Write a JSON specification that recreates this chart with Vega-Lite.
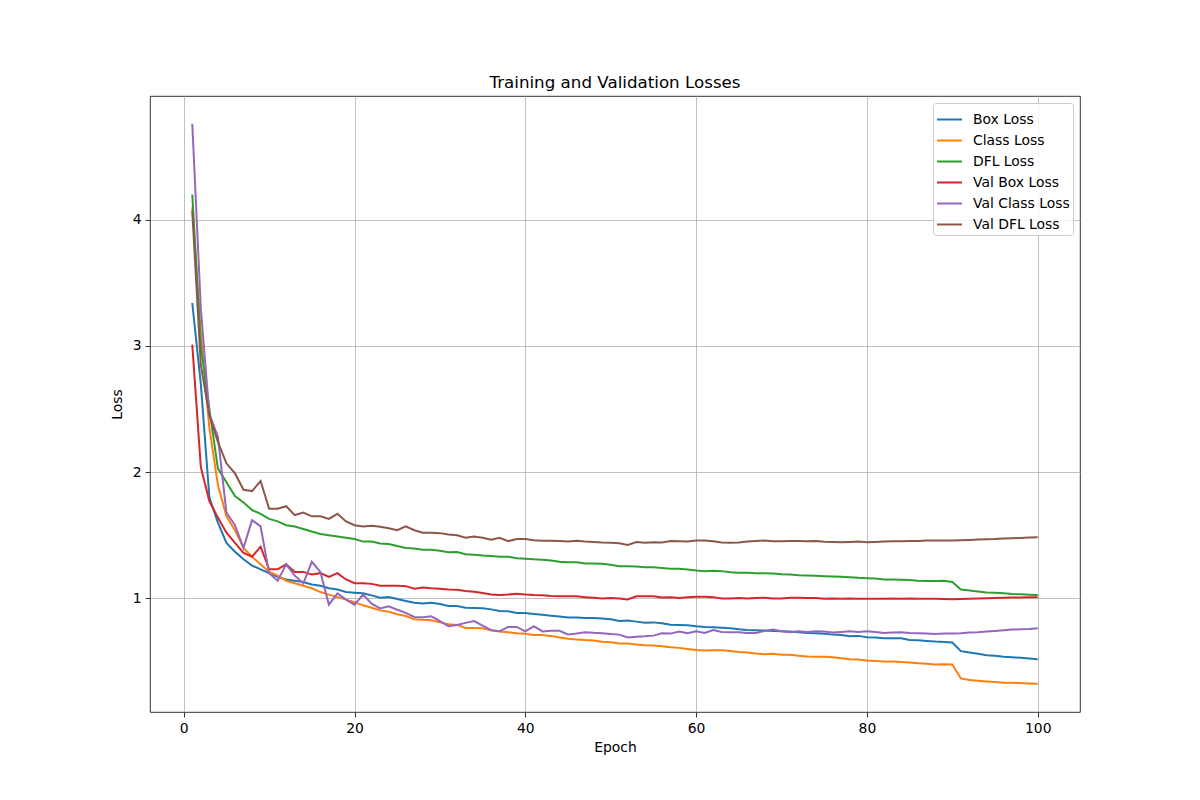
{
  "$schema": "https://vega.github.io/schema/vega-lite/v6.json",
  "width": 930,
  "height": 616,
  "autosize": {"type": "none"},
  "padding": {"left": 150, "top": 96, "right": 120, "bottom": 88},
  "config": {
    "font": "DejaVu Sans",
    "view": {"stroke": "black", "strokeWidth": 0.8},
    "axis": {
      "domain": false,
      "grid": true,
      "gridColor": "#b0b0b0",
      "gridWidth": 0.8,
      "tickColor": "black",
      "tickWidth": 0.8,
      "tickSize": 5,
      "labelColor": "black",
      "labelFontSize": 13.9,
      "labelPadding": 4,
      "titleColor": "black",
      "titleFontSize": 13.9,
      "titleFontWeight": "normal"
    }
  },
  "title": {
    "text": "Training and Validation Losses",
    "fontSize": 16.7,
    "fontWeight": "normal",
    "color": "black",
    "offset": 4
  },
  "data": {
    "values": [
      {"e": 1, "Box Loss": 3.34, "Class Loss": 4.10, "DFL Loss": 4.20, "Val Box Loss": 3.01, "Val Class Loss": 4.76, "Val DFL Loss": 4.07},
      {"e": 2, "Box Loss": 2.70, "Class Loss": 3.10, "DFL Loss": 3.00, "Val Box Loss": 2.04, "Val Class Loss": 3.30, "Val DFL Loss": 2.85},
      {"e": 3, "Box Loss": 1.80, "Class Loss": 2.35, "DFL Loss": 2.50, "Val Box Loss": 1.77, "Val Class Loss": 2.46, "Val DFL Loss": 2.45},
      {"e": 4, "Box Loss": 1.60, "Class Loss": 1.90, "DFL Loss": 2.03, "Val Box Loss": 1.64, "Val Class Loss": 2.28, "Val DFL Loss": 2.24},
      {"e": 5, "Box Loss": 1.44, "Class Loss": 1.65, "DFL Loss": 1.92, "Val Box Loss": 1.52, "Val Class Loss": 1.68, "Val DFL Loss": 2.07},
      {"e": 6, "Box Loss": 1.37, "Class Loss": 1.54, "DFL Loss": 1.81, "Val Box Loss": 1.44, "Val Class Loss": 1.58, "Val DFL Loss": 1.99},
      {"e": 7, "Box Loss": 1.31, "Class Loss": 1.40, "DFL Loss": 1.76, "Val Box Loss": 1.36, "Val Class Loss": 1.40, "Val DFL Loss": 1.86},
      {"e": 8, "Box Loss": 1.26, "Class Loss": 1.33, "DFL Loss": 1.70, "Val Box Loss": 1.33, "Val Class Loss": 1.62, "Val DFL Loss": 1.85},
      {"e": 9, "Box Loss": 1.23, "Class Loss": 1.27, "DFL Loss": 1.67, "Val Box Loss": 1.41, "Val Class Loss": 1.57, "Val DFL Loss": 1.93},
      {"e": 10, "Box Loss": 1.20, "Class Loss": 1.21, "DFL Loss": 1.63, "Val Box Loss": 1.23, "Val Class Loss": 1.20, "Val DFL Loss": 1.71},
      {"e": 11, "Box Loss": 1.17, "Class Loss": 1.18, "DFL Loss": 1.61, "Val Box Loss": 1.23, "Val Class Loss": 1.14, "Val DFL Loss": 1.71},
      {"e": 12, "Box Loss": 1.15, "Class Loss": 1.14, "DFL Loss": 1.58, "Val Box Loss": 1.27, "Val Class Loss": 1.27, "Val DFL Loss": 1.73},
      {"e": 13, "Box Loss": 1.14, "Class Loss": 1.12, "DFL Loss": 1.57, "Val Box Loss": 1.21, "Val Class Loss": 1.18, "Val DFL Loss": 1.66},
      {"e": 14, "Box Loss": 1.13, "Class Loss": 1.10, "DFL Loss": 1.55, "Val Box Loss": 1.21, "Val Class Loss": 1.12, "Val DFL Loss": 1.68},
      {"e": 15, "Box Loss": 1.11, "Class Loss": 1.08, "DFL Loss": 1.53, "Val Box Loss": 1.19, "Val Class Loss": 1.29, "Val DFL Loss": 1.65},
      {"e": 16, "Box Loss": 1.10, "Class Loss": 1.05, "DFL Loss": 1.51, "Val Box Loss": 1.20, "Val Class Loss": 1.21, "Val DFL Loss": 1.65},
      {"e": 17, "Box Loss": 1.08, "Class Loss": 1.03, "DFL Loss": 1.50, "Val Box Loss": 1.17, "Val Class Loss": 0.95, "Val DFL Loss": 1.63},
      {"e": 18, "Box Loss": 1.07, "Class Loss": 1.01, "DFL Loss": 1.49, "Val Box Loss": 1.20, "Val Class Loss": 1.04, "Val DFL Loss": 1.67},
      {"e": 19, "Box Loss": 1.05, "Class Loss": 0.99, "DFL Loss": 1.48, "Val Box Loss": 1.15, "Val Class Loss": 0.99, "Val DFL Loss": 1.61},
      {"e": 20, "Box Loss": 1.045, "Class Loss": 0.97, "DFL Loss": 1.47, "Val Box Loss": 1.12, "Val Class Loss": 0.95, "Val DFL Loss": 1.58},
      {"e": 21, "Box Loss": 1.04, "Class Loss": 0.945, "DFL Loss": 1.45, "Val Box Loss": 1.12, "Val Class Loss": 1.03, "Val DFL Loss": 1.57},
      {"e": 22, "Box Loss": 1.024, "Class Loss": 0.926, "DFL Loss": 1.45, "Val Box Loss": 1.115, "Val Class Loss": 0.958, "Val DFL Loss": 1.575},
      {"e": 23, "Box Loss": 1.005, "Class Loss": 0.905, "DFL Loss": 1.435, "Val Box Loss": 1.10, "Val Class Loss": 0.92, "Val DFL Loss": 1.567},
      {"e": 24, "Box Loss": 1.01, "Class Loss": 0.895, "DFL Loss": 1.43, "Val Box Loss": 1.10, "Val Class Loss": 0.937, "Val DFL Loss": 1.556},
      {"e": 25, "Box Loss": 0.995, "Class Loss": 0.874, "DFL Loss": 1.415, "Val Box Loss": 1.10, "Val Class Loss": 0.91, "Val DFL Loss": 1.54},
      {"e": 26, "Box Loss": 0.98, "Class Loss": 0.86, "DFL Loss": 1.40, "Val Box Loss": 1.097, "Val Class Loss": 0.885, "Val DFL Loss": 1.57},
      {"e": 27, "Box Loss": 0.966, "Class Loss": 0.835, "DFL Loss": 1.396, "Val Box Loss": 1.076, "Val Class Loss": 0.853, "Val DFL Loss": 1.54},
      {"e": 28, "Box Loss": 0.96, "Class Loss": 0.83, "DFL Loss": 1.386, "Val Box Loss": 1.087, "Val Class Loss": 0.85, "Val DFL Loss": 1.52},
      {"e": 29, "Box Loss": 0.966, "Class Loss": 0.827, "DFL Loss": 1.386, "Val Box Loss": 1.08, "Val Class Loss": 0.858, "Val DFL Loss": 1.52},
      {"e": 30, "Box Loss": 0.955, "Class Loss": 0.81, "DFL Loss": 1.378, "Val Box Loss": 1.076, "Val Class Loss": 0.82, "Val DFL Loss": 1.517},
      {"e": 31, "Box Loss": 0.94, "Class Loss": 0.795, "DFL Loss": 1.365, "Val Box Loss": 1.07, "Val Class Loss": 0.78, "Val DFL Loss": 1.507},
      {"e": 32, "Box Loss": 0.94, "Class Loss": 0.79, "DFL Loss": 1.367, "Val Box Loss": 1.068, "Val Class Loss": 0.79, "Val DFL Loss": 1.50},
      {"e": 33, "Box Loss": 0.926, "Class Loss": 0.766, "DFL Loss": 1.35, "Val Box Loss": 1.058, "Val Class Loss": 0.806, "Val DFL Loss": 1.48},
      {"e": 34, "Box Loss": 0.924, "Class Loss": 0.766, "DFL Loss": 1.346, "Val Box Loss": 1.052, "Val Class Loss": 0.82, "Val DFL Loss": 1.49},
      {"e": 35, "Box Loss": 0.921, "Class Loss": 0.764, "DFL Loss": 1.34, "Val Box Loss": 1.042, "Val Class Loss": 0.785, "Val DFL Loss": 1.48},
      {"e": 36, "Box Loss": 0.913, "Class Loss": 0.748, "DFL Loss": 1.336, "Val Box Loss": 1.03, "Val Class Loss": 0.748, "Val DFL Loss": 1.465},
      {"e": 37, "Box Loss": 0.90, "Class Loss": 0.738, "DFL Loss": 1.33, "Val Box Loss": 1.026, "Val Class Loss": 0.74, "Val DFL Loss": 1.48},
      {"e": 38, "Box Loss": 0.898, "Class Loss": 0.732, "DFL Loss": 1.33, "Val Box Loss": 1.03, "Val Class Loss": 0.774, "Val DFL Loss": 1.454},
      {"e": 39, "Box Loss": 0.885, "Class Loss": 0.724, "DFL Loss": 1.318, "Val Box Loss": 1.037, "Val Class Loss": 0.774, "Val DFL Loss": 1.47},
      {"e": 40, "Box Loss": 0.885, "Class Loss": 0.72, "DFL Loss": 1.315, "Val Box Loss": 1.03, "Val Class Loss": 0.738, "Val DFL Loss": 1.47},
      {"e": 41, "Box Loss": 0.877, "Class Loss": 0.71, "DFL Loss": 1.31, "Val Box Loss": 1.026, "Val Class Loss": 0.78, "Val DFL Loss": 1.46},
      {"e": 42, "Box Loss": 0.87, "Class Loss": 0.71, "DFL Loss": 1.307, "Val Box Loss": 1.024, "Val Class Loss": 0.738, "Val DFL Loss": 1.457},
      {"e": 43, "Box Loss": 0.863, "Class Loss": 0.703, "DFL Loss": 1.30, "Val Box Loss": 1.018, "Val Class Loss": 0.743, "Val DFL Loss": 1.457},
      {"e": 44, "Box Loss": 0.856, "Class Loss": 0.69, "DFL Loss": 1.29, "Val Box Loss": 1.016, "Val Class Loss": 0.743, "Val DFL Loss": 1.454},
      {"e": 45, "Box Loss": 0.848, "Class Loss": 0.68, "DFL Loss": 1.286, "Val Box Loss": 1.016, "Val Class Loss": 0.714, "Val DFL Loss": 1.45},
      {"e": 46, "Box Loss": 0.848, "Class Loss": 0.675, "DFL Loss": 1.286, "Val Box Loss": 1.016, "Val Class Loss": 0.722, "Val DFL Loss": 1.457},
      {"e": 47, "Box Loss": 0.845, "Class Loss": 0.67, "DFL Loss": 1.276, "Val Box Loss": 1.01, "Val Class Loss": 0.732, "Val DFL Loss": 1.45},
      {"e": 48, "Box Loss": 0.845, "Class Loss": 0.667, "DFL Loss": 1.277, "Val Box Loss": 1.005, "Val Class Loss": 0.727, "Val DFL Loss": 1.446},
      {"e": 49, "Box Loss": 0.84, "Class Loss": 0.656, "DFL Loss": 1.275, "Val Box Loss": 1.0, "Val Class Loss": 0.724, "Val DFL Loss": 1.442},
      {"e": 50, "Box Loss": 0.834, "Class Loss": 0.653, "DFL Loss": 1.266, "Val Box Loss": 1.003, "Val Class Loss": 0.718, "Val DFL Loss": 1.44},
      {"e": 51, "Box Loss": 0.821, "Class Loss": 0.642, "DFL Loss": 1.255, "Val Box Loss": 1.0, "Val Class Loss": 0.713, "Val DFL Loss": 1.437},
      {"e": 52, "Box Loss": 0.824, "Class Loss": 0.642, "DFL Loss": 1.255, "Val Box Loss": 0.992, "Val Class Loss": 0.69, "Val DFL Loss": 1.424},
      {"e": 53, "Box Loss": 0.816, "Class Loss": 0.634, "DFL Loss": 1.253, "Val Box Loss": 1.016, "Val Class Loss": 0.697, "Val DFL Loss": 1.447},
      {"e": 54, "Box Loss": 0.808, "Class Loss": 0.629, "DFL Loss": 1.247, "Val Box Loss": 1.016, "Val Class Loss": 0.70, "Val DFL Loss": 1.44},
      {"e": 55, "Box Loss": 0.81, "Class Loss": 0.626, "DFL Loss": 1.247, "Val Box Loss": 1.016, "Val Class Loss": 0.705, "Val DFL Loss": 1.445},
      {"e": 56, "Box Loss": 0.803, "Class Loss": 0.621, "DFL Loss": 1.24, "Val Box Loss": 1.008, "Val Class Loss": 0.724, "Val DFL Loss": 1.442},
      {"e": 57, "Box Loss": 0.792, "Class Loss": 0.613, "DFL Loss": 1.234, "Val Box Loss": 1.01, "Val Class Loss": 0.721, "Val DFL Loss": 1.455},
      {"e": 58, "Box Loss": 0.79, "Class Loss": 0.608, "DFL Loss": 1.234, "Val Box Loss": 1.003, "Val Class Loss": 0.737, "Val DFL Loss": 1.453},
      {"e": 59, "Box Loss": 0.787, "Class Loss": 0.60, "DFL Loss": 1.229, "Val Box Loss": 1.01, "Val Class Loss": 0.724, "Val DFL Loss": 1.45},
      {"e": 60, "Box Loss": 0.779, "Class Loss": 0.592, "DFL Loss": 1.221, "Val Box Loss": 1.013, "Val Class Loss": 0.739, "Val DFL Loss": 1.458},
      {"e": 61, "Box Loss": 0.774, "Class Loss": 0.587, "DFL Loss": 1.216, "Val Box Loss": 1.013, "Val Class Loss": 0.726, "Val DFL Loss": 1.458},
      {"e": 62, "Box Loss": 0.771, "Class Loss": 0.589, "DFL Loss": 1.218, "Val Box Loss": 1.01, "Val Class Loss": 0.75, "Val DFL Loss": 1.453},
      {"e": 63, "Box Loss": 0.768, "Class Loss": 0.589, "DFL Loss": 1.216, "Val Box Loss": 1.0, "Val Class Loss": 0.734, "Val DFL Loss": 1.442},
      {"e": 64, "Box Loss": 0.763, "Class Loss": 0.584, "DFL Loss": 1.208, "Val Box Loss": 1.0, "Val Class Loss": 0.732, "Val DFL Loss": 1.44},
      {"e": 65, "Box Loss": 0.755, "Class Loss": 0.576, "DFL Loss": 1.203, "Val Box Loss": 1.003, "Val Class Loss": 0.732, "Val DFL Loss": 1.442},
      {"e": 66, "Box Loss": 0.75, "Class Loss": 0.571, "DFL Loss": 1.203, "Val Box Loss": 1.0, "Val Class Loss": 0.726, "Val DFL Loss": 1.45},
      {"e": 67, "Box Loss": 0.747, "Class Loss": 0.563, "DFL Loss": 1.2, "Val Box Loss": 1.003, "Val Class Loss": 0.726, "Val DFL Loss": 1.455},
      {"e": 68, "Box Loss": 0.745, "Class Loss": 0.558, "DFL Loss": 1.2, "Val Box Loss": 1.005, "Val Class Loss": 0.742, "Val DFL Loss": 1.458},
      {"e": 69, "Box Loss": 0.742, "Class Loss": 0.561, "DFL Loss": 1.197, "Val Box Loss": 1.0, "Val Class Loss": 0.753, "Val DFL Loss": 1.453},
      {"e": 70, "Box Loss": 0.739, "Class Loss": 0.553, "DFL Loss": 1.192, "Val Box Loss": 1.0, "Val Class Loss": 0.739, "Val DFL Loss": 1.453},
      {"e": 71, "Box Loss": 0.737, "Class Loss": 0.553, "DFL Loss": 1.19, "Val Box Loss": 1.005, "Val Class Loss": 0.732, "Val DFL Loss": 1.455},
      {"e": 72, "Box Loss": 0.732, "Class Loss": 0.545, "DFL Loss": 1.184, "Val Box Loss": 1.005, "Val Class Loss": 0.739, "Val DFL Loss": 1.455},
      {"e": 73, "Box Loss": 0.726, "Class Loss": 0.539, "DFL Loss": 1.182, "Val Box Loss": 1.003, "Val Class Loss": 0.734, "Val DFL Loss": 1.453},
      {"e": 74, "Box Loss": 0.724, "Class Loss": 0.537, "DFL Loss": 1.179, "Val Box Loss": 1.003, "Val Class Loss": 0.739, "Val DFL Loss": 1.455},
      {"e": 75, "Box Loss": 0.72, "Class Loss": 0.537, "DFL Loss": 1.176, "Val Box Loss": 0.998, "Val Class Loss": 0.738, "Val DFL Loss": 1.448},
      {"e": 76, "Box Loss": 0.713, "Class Loss": 0.534, "DFL Loss": 1.174, "Val Box Loss": 1.0, "Val Class Loss": 0.729, "Val DFL Loss": 1.447},
      {"e": 77, "Box Loss": 0.71, "Class Loss": 0.526, "DFL Loss": 1.171, "Val Box Loss": 0.998, "Val Class Loss": 0.734, "Val DFL Loss": 1.445},
      {"e": 78, "Box Loss": 0.70, "Class Loss": 0.518, "DFL Loss": 1.168, "Val Box Loss": 1.0, "Val Class Loss": 0.739, "Val DFL Loss": 1.447},
      {"e": 79, "Box Loss": 0.703, "Class Loss": 0.516, "DFL Loss": 1.163, "Val Box Loss": 0.998, "Val Class Loss": 0.734, "Val DFL Loss": 1.45},
      {"e": 80, "Box Loss": 0.692, "Class Loss": 0.508, "DFL Loss": 1.16, "Val Box Loss": 0.997, "Val Class Loss": 0.739, "Val DFL Loss": 1.445},
      {"e": 81, "Box Loss": 0.69, "Class Loss": 0.505, "DFL Loss": 1.158, "Val Box Loss": 0.998, "Val Class Loss": 0.734, "Val DFL Loss": 1.447},
      {"e": 82, "Box Loss": 0.684, "Class Loss": 0.50, "DFL Loss": 1.15, "Val Box Loss": 0.998, "Val Class Loss": 0.726, "Val DFL Loss": 1.45},
      {"e": 83, "Box Loss": 0.684, "Class Loss": 0.50, "DFL Loss": 1.15, "Val Box Loss": 0.999, "Val Class Loss": 0.729, "Val DFL Loss": 1.453},
      {"e": 84, "Box Loss": 0.684, "Class Loss": 0.497, "DFL Loss": 1.147, "Val Box Loss": 0.998, "Val Class Loss": 0.732, "Val DFL Loss": 1.453},
      {"e": 85, "Box Loss": 0.671, "Class Loss": 0.492, "DFL Loss": 1.145, "Val Box Loss": 0.999, "Val Class Loss": 0.726, "Val DFL Loss": 1.455},
      {"e": 86, "Box Loss": 0.668, "Class Loss": 0.487, "DFL Loss": 1.14, "Val Box Loss": 0.998, "Val Class Loss": 0.724, "Val DFL Loss": 1.455},
      {"e": 87, "Box Loss": 0.663, "Class Loss": 0.482, "DFL Loss": 1.137, "Val Box Loss": 0.997, "Val Class Loss": 0.721, "Val DFL Loss": 1.458},
      {"e": 88, "Box Loss": 0.658, "Class Loss": 0.476, "DFL Loss": 1.137, "Val Box Loss": 0.997, "Val Class Loss": 0.718, "Val DFL Loss": 1.458},
      {"e": 89, "Box Loss": 0.655, "Class Loss": 0.479, "DFL Loss": 1.14, "Val Box Loss": 0.996, "Val Class Loss": 0.721, "Val DFL Loss": 1.458},
      {"e": 90, "Box Loss": 0.65, "Class Loss": 0.476, "DFL Loss": 1.13, "Val Box Loss": 0.994, "Val Class Loss": 0.721, "Val DFL Loss": 1.458},
      {"e": 91, "Box Loss": 0.582, "Class Loss": 0.366, "DFL Loss": 1.071, "Val Box Loss": 0.996, "Val Class Loss": 0.724, "Val DFL Loss": 1.46},
      {"e": 92, "Box Loss": 0.571, "Class Loss": 0.353, "DFL Loss": 1.063, "Val Box Loss": 0.998, "Val Class Loss": 0.729, "Val DFL Loss": 1.463},
      {"e": 93, "Box Loss": 0.561, "Class Loss": 0.347, "DFL Loss": 1.055, "Val Box Loss": 1.0, "Val Class Loss": 0.732, "Val DFL Loss": 1.466},
      {"e": 94, "Box Loss": 0.55, "Class Loss": 0.342, "DFL Loss": 1.047, "Val Box Loss": 1.002, "Val Class Loss": 0.737, "Val DFL Loss": 1.468},
      {"e": 95, "Box Loss": 0.545, "Class Loss": 0.337, "DFL Loss": 1.045, "Val Box Loss": 1.004, "Val Class Loss": 0.742, "Val DFL Loss": 1.47},
      {"e": 96, "Box Loss": 0.537, "Class Loss": 0.332, "DFL Loss": 1.04, "Val Box Loss": 1.005, "Val Class Loss": 0.747, "Val DFL Loss": 1.474},
      {"e": 97, "Box Loss": 0.534, "Class Loss": 0.332, "DFL Loss": 1.034, "Val Box Loss": 1.007, "Val Class Loss": 0.753, "Val DFL Loss": 1.476},
      {"e": 98, "Box Loss": 0.529, "Class Loss": 0.329, "DFL Loss": 1.032, "Val Box Loss": 1.008, "Val Class Loss": 0.755, "Val DFL Loss": 1.479},
      {"e": 99, "Box Loss": 0.524, "Class Loss": 0.326, "DFL Loss": 1.029, "Val Box Loss": 1.01, "Val Class Loss": 0.758, "Val DFL Loss": 1.482},
      {"e": 100, "Box Loss": 0.518, "Class Loss": 0.324, "DFL Loss": 1.026, "Val Box Loss": 1.01, "Val Class Loss": 0.763, "Val DFL Loss": 1.484}
    ]
  },
  "transform": [
    {"fold": ["Box Loss", "Class Loss", "DFL Loss", "Val Box Loss", "Val Class Loss", "Val DFL Loss"], "as": ["series", "loss"]}
  ],
  "mark": {"type": "line", "strokeWidth": 2},
  "encoding": {
    "x": {
      "field": "e",
      "type": "quantitative",
      "title": "Epoch",
      "scale": {"domain": [-3.95, 104.95], "nice": false, "zero": false},
      "axis": {"values": [0, 20, 40, 60, 80, 100], "titlePadding": 6}
    },
    "y": {
      "field": "loss",
      "type": "quantitative",
      "title": "Loss",
      "scale": {"domain": [0.1, 4.98], "nice": false, "zero": false},
      "axis": {"values": [1, 2, 3, 4], "titlePadding": 8}
    },
    "color": {
      "field": "series",
      "type": "nominal",
      "scale": {
        "domain": ["Box Loss", "Class Loss", "DFL Loss", "Val Box Loss", "Val Class Loss", "Val DFL Loss"],
        "range": ["#1f77b4", "#ff7f0e", "#2ca02c", "#d62728", "#9467bd", "#8c564b"]
      },
      "legend": {
        "title": null,
        "orient": "top-right",
        "offset": 7,
        "padding": 3,
        "fillColor": "rgba(255,255,255,0.8)",
        "strokeColor": "#cccccc",
        "cornerRadius": 3,
        "symbolType": "stroke",
        "symbolSize": 625,
        "symbolStrokeWidth": 2,
        "labelFontSize": 13.9,
        "labelColor": "black",
        "labelOffset": 10,
        "rowPadding": 0
      }
    }
  }
}
